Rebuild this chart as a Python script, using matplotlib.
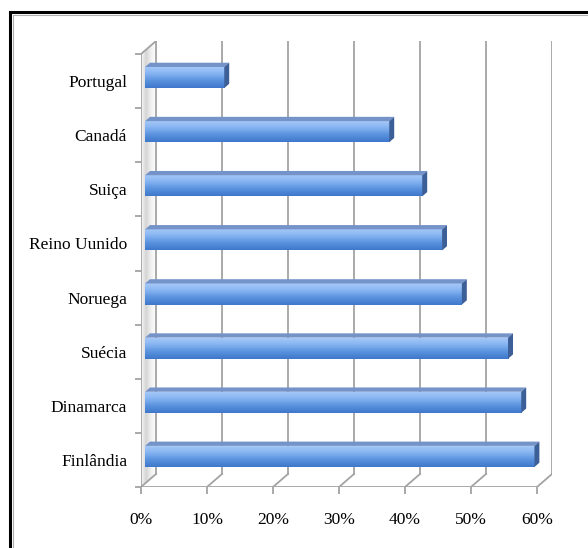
import matplotlib
matplotlib.use("Agg")
import matplotlib.pyplot as plt
import numpy as np
from matplotlib.colors import LinearSegmentedColormap
from matplotlib.patches import Polygon, Rectangle

countries = ["Portugal", "Canadá", "Suiça", "Reino Uunido", "Noruega", "Suécia", "Dinamarca", "Finlândia"]
shares = [12, 37, 42, 45, 48, 55, 57, 59]
x_ticks = [0, 10, 20, 30, 40, 50, 60]
x_labels = ["0%", "10%", "20%", "30%", "40%", "50%", "60%"]

plt.rcParams['font.family'] = ['Liberation Serif', 'DejaVu Serif']

W, H = 588, 548
fig = plt.figure(figsize=(W / 100, H / 100), dpi=100)

# front plane 0%..60% = 141..537 px, categories 487..54 px; 3D depth offset ~15px right, 13px up
px_x = (537 - 141) / 60
px_y = (487 - 54) / 8
DX = 15 / px_x
DY = 13 / px_y
ax = fig.add_axes([141 / W, 1 - 487 / H, (537 - 141 + 15) / W, (487 - 54 + 13) / H])
ax.set_xlim(0, 60 + DX)
ax.set_ylim(-0.5, 7.5 + DY)
for s in ax.spines.values():
    s.set_visible(False)

grid = '#a3a3a3'
ypos = np.arange(len(countries))[::-1]

# left wall shading
wall = Polygon([(0, -0.5), (DX, -0.5 + DY), (DX, 7.5 + DY), (0, 7.5)], closed=True,
               facecolor='none', edgecolor='none')
ax.add_patch(wall)
wall_cmap = LinearSegmentedColormap.from_list('wall', ['#fafafa', '#d4d4d4', '#f0f0f0', '#ffffff'])
wimg = ax.imshow(np.linspace(0, 1, 64).reshape(1, -1), extent=[0, DX, -0.5, 7.5 + DY],
                 aspect='auto', cmap=wall_cmap, zorder=1)
wimg.set_clip_path(wall)

# back wall gridlines and floor diagonals
for x in x_ticks:
    ax.plot([x + DX, x + DX], [-0.5 + DY, 7.5 + DY], color=grid, lw=1.3, zorder=2)
    ax.plot([x, x + DX], [-0.5, -0.5 + DY], color=grid, lw=1.3, zorder=2)
ax.plot([0, 60], [-0.5, -0.5], color=grid, lw=1.3, zorder=2)
ax.plot([0, 0], [-0.5, 7.5], color=grid, lw=1.3, zorder=2)
ax.plot([0, DX], [7.5, 7.5 + DY], color=grid, lw=1.3, zorder=2)

# 3D bars
f, g = 0.27, 0.6
half = 0.195
face_cmap = LinearSegmentedColormap.from_list('face', ['#a9cbf8', '#86b4f2', '#5a92de', '#3f78cb'])
bars = ax.barh(ypos + f * DY, shares, left=f * DX, height=2 * half, color='#6a9ee6',
               edgecolor='none', zorder=4)
grad = np.linspace(0, 1, 64).reshape(-1, 1)
for bar, v, y in zip(bars, shares, ypos):
    yc = y + f * DY
    yt, yb = yc + half, yc - half
    img = ax.imshow(grad, extent=[f * DX, v + f * DX, yb, yt], aspect='auto', cmap=face_cmap,
                    origin='upper', zorder=4.5)
    img.set_clip_path(bar)
    d = (g - f)
    top = Polygon([(f * DX, yt), (v + f * DX, yt), (v + g * DX, yt + d * DY), (g * DX, yt + d * DY)],
                  closed=True, facecolor='#7493c9', edgecolor='none', zorder=5)
    side = Polygon([(v + f * DX, yb), (v + f * DX, yt), (v + g * DX, yt + d * DY), (v + g * DX, yb + d * DY)],
                   closed=True, facecolor='#3d5f98', edgecolor='none', zorder=5)
    ax.add_patch(top)
    ax.add_patch(side)

ax.set_xlim(0, 60 + DX)
ax.set_ylim(-0.5, 7.5 + DY)

ax.set_xticks(x_ticks, x_labels, fontsize=12.5)
ax.tick_params(axis='x', length=5, width=1.3, color=grid, pad=13)
ax.set_yticks(ypos, countries, fontsize=12.5)
ax.set_yticks(np.arange(-0.5, 8, 1), minor=True)
ax.tick_params(axis='y', which='major', length=0, pad=10)
ax.tick_params(axis='y', which='minor', length=4, width=1.3, color=grid)

# document frame
fig.add_artist(Rectangle((10 / W, -0.1), 1.2, 1.1 - 12 / H, transform=fig.transFigure,
                         fill=False, edgecolor='black', lw=2.2))
fig.add_artist(Rectangle((13 / W, -0.1), 1.2, 1.1 - 15 / H, transform=fig.transFigure,
                         fill=False, edgecolor='#b0b0b0', lw=0.8))

fig.savefig("out.png", dpi=100)
